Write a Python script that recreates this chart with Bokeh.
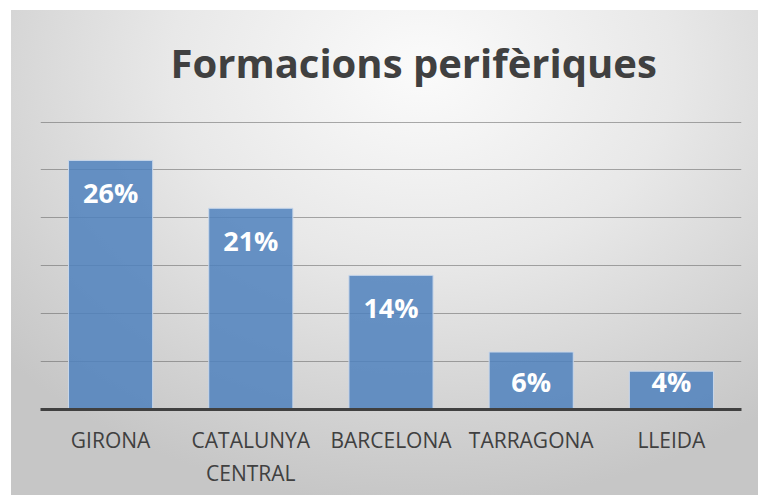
from bokeh.plotting import figure
from bokeh.models import FactorRange, Range1d, SingleIntervalTicker, ColumnDataSource
from bokeh.core.properties import value
from bokeh.embed import file_html
from bokeh.resources import INLINE

categories = ["GIRONA", "CATALUNYA\nCENTRAL", "BARCELONA", "TARRAGONA", "LLEIDA"]
values = [26, 21, 14, 6, 4]
labels = ["26%", "21%", "14%", "6%", "4%"]
title_text = "Formacions perifèriques"

label_y = [max(v - 3.35, 2.95) for v in values]
src = ColumnDataSource(dict(cat=categories, val=values, lab=labels, ly=label_y))

p = figure(width=747, height=485, output_backend="svg", toolbar_location=None,
           x_range=FactorRange(factors=categories), y_range=Range1d(0, 31),
           min_border_left=29, min_border_right=17, min_border_top=101,
           min_border_bottom=86)

p.styles = {"margin-left": "11px", "margin-top": "10px",
            "background-image":
            "radial-gradient(ellipse 75% 90% at 55% 12%, #fbfbfb 0%, #e8e8e8 45%, #d2d2d2 80%, #c6c6c6 100%)"}
p.background_fill_alpha = 0
p.border_fill_alpha = 0
p.outline_line_color = None

p.title.text = title_text
p.title.text_font = "Open Sans"
p.title.text_font_style = "bold"
p.title.text_font_size = "40px"
p.title.text_color = "#404040"
p.title.align = "left"
p.title.offset = 130
p.title.standoff = 45

p.vbar(x="cat", top="val", width=0.6, source=src, fill_color="#4f81bd",
       fill_alpha=0.85, line_color="#c9d7ea", line_width=1)

p.text(x="cat", y="ly", text="lab", source=src, text_color="white",
       text_font=value("Open Sans"), text_font_style="bold", text_font_size="27px",
       text_align="center", text_baseline="middle")

p.yaxis.visible = False
p.ygrid.ticker = SingleIntervalTicker(interval=5)
p.ygrid.grid_line_color = "#595959"
p.ygrid.grid_line_alpha = 0.5
p.ygrid.grid_line_width = 1
p.xgrid.visible = False

ax = p.xaxis[0]
ax.axis_line_color = "#404040"
ax.axis_line_width = 3
ax.major_tick_line_color = None
ax.minor_tick_line_color = None
ax.major_label_text_font = "Open Sans"
ax.major_label_text_font_size = "21px"
ax.major_label_text_color = "#404040"
ax.major_label_standoff = 10

open("out.html", "w").write(file_html(p, INLINE))
